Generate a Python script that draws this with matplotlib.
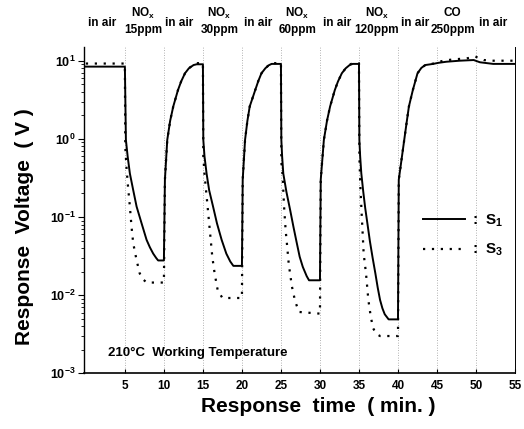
import matplotlib
matplotlib.use("Agg")
import matplotlib.pyplot as plt
from matplotlib.ticker import FixedLocator, LogLocator, NullFormatter

plt.rcParams['font.family'] = ['Liberation Sans', 'DejaVu Sans']
plt.rcParams['font.weight'] = 'bold'
plt.rcParams['mathtext.fontset'] = 'custom'
plt.rcParams['mathtext.rm'] = 'Liberation Sans:bold'
plt.rcParams['mathtext.bf'] = 'Liberation Sans:bold'
plt.rcParams['mathtext.it'] = 'Liberation Sans:bold'
plt.rcParams['mathtext.default'] = 'bf'

# S1 (solid) response: time (min), voltage (V)
s1_t = [0, 5.0, 5.13, 5.35, 5.64, 6.07, 6.5, 7.14, 7.78, 8.2, 8.63, 9.0, 9.26, 10.0,
        10.13, 10.43, 10.8, 11.2, 11.8, 12.2, 12.7, 13.2, 13.8, 14.2, 15.0,
        15.05, 15.2, 15.47, 15.8, 16.3, 16.8, 17.4, 18.0, 18.5, 18.9, 20.0,
        20.1, 20.4, 20.7, 21.0, 21.7, 22.1, 22.5, 23.0, 23.4, 23.8, 25.0,
        25.05, 25.15, 25.3, 25.7, 26.2, 26.6, 27.0, 27.4, 27.8, 28.3, 28.6, 30.0,
        30.1, 30.5, 30.9, 31.3, 31.9, 32.3, 32.8, 33.3, 33.8, 34.2, 35.0,
        35.05, 35.15, 35.3, 35.55, 35.8, 36.1, 36.4, 36.75, 37.1, 37.4, 37.7, 38.0, 38.3, 38.8, 40.0,
        40.1, 40.8, 41.1, 41.4, 41.9, 42.5, 43.0, 43.5, 44.5, 45.2, 46.2, 47.9, 49.7, 50.5, 52.2, 55.0]
s1_v = [8.4, 8.4, 0.97, 0.6, 0.36, 0.22, 0.136, 0.083, 0.051, 0.041, 0.034, 0.030, 0.0278, 0.0278,
        0.30, 0.97, 1.7, 2.6, 4.2, 5.4, 6.9, 8.0, 8.8, 9.0, 9.0,
        0.97, 0.6, 0.36, 0.22, 0.136, 0.083, 0.051, 0.034, 0.027, 0.0237, 0.0237,
        0.30, 0.97, 1.7, 2.6, 4.2, 5.5, 6.9, 8.0, 8.7, 9.1, 9.1,
        0.97, 0.6, 0.36, 0.21, 0.12, 0.075, 0.048, 0.031, 0.023, 0.0175, 0.0155, 0.0155,
        0.30, 0.97, 1.7, 2.6, 4.2, 5.4, 6.9, 8.0, 8.8, 9.1, 9.1,
        0.97, 0.6, 0.36, 0.21, 0.13, 0.08, 0.049, 0.03, 0.019, 0.0125, 0.0087, 0.0068, 0.0057, 0.0049, 0.0049,
        0.30, 0.97, 1.6, 2.6, 4.2, 6.9, 8.1, 8.8, 9.1, 9.4, 9.7, 10.0, 10.2, 9.55, 9.1, 9.1]

# S3 (dotted) response
s3_t = [0, 5.0, 5.05, 5.2, 5.4, 5.64, 5.85, 6.07, 6.5, 6.9, 7.3, 7.8, 10.0,
        10.13, 10.43, 10.8, 11.2, 11.8, 12.2, 12.7, 13.2, 13.8, 14.2, 15.0,
        15.05, 15.2, 15.4, 15.6, 15.8, 16.0, 16.2, 16.5, 16.9, 17.5, 20.0,
        20.1, 20.4, 20.7, 21.0, 21.7, 22.1, 22.5, 23.0, 23.4, 23.8, 25.0,
        25.05, 25.2, 25.4, 25.6, 25.8, 26.0, 26.4, 26.8, 27.3, 30.0,
        30.1, 30.5, 30.9, 31.3, 31.9, 32.3, 32.8, 33.3, 33.8, 34.2, 35.0,
        35.05, 35.2, 35.34, 35.47, 35.6, 35.9, 36.2, 36.5, 36.8, 37.2, 37.7, 40.0,
        40.1, 40.8, 41.1, 41.4, 41.9, 42.5, 43.0, 43.5, 44.7, 45.8, 47.1, 48.8, 49.9, 51.0, 52.2, 55.0]
s3_v = [9.2, 9.2, 0.79, 0.44, 0.245, 0.136, 0.075, 0.046, 0.028, 0.019, 0.016, 0.0145, 0.0145,
        0.30, 0.97, 1.7, 2.6, 4.2, 5.4, 6.9, 8.0, 8.9, 9.3, 9.3,
        0.6, 0.36, 0.22, 0.136, 0.083, 0.051, 0.031, 0.019, 0.0115, 0.0092, 0.0092,
        0.30, 0.97, 1.7, 2.6, 4.2, 5.5, 6.9, 8.0, 8.7, 9.3, 9.3,
        0.5, 0.36, 0.136, 0.068, 0.042, 0.025, 0.013, 0.0085, 0.0061, 0.0058,
        0.30, 0.97, 1.7, 2.6, 4.2, 5.4, 6.9, 8.0, 8.9, 9.3, 9.3,
        0.59, 0.22, 0.112, 0.062, 0.034, 0.019, 0.0087, 0.0054, 0.0038, 0.0032, 0.0030, 0.0030,
        0.30, 0.97, 1.6, 2.6, 4.2, 6.9, 8.1, 8.8, 9.26, 10.0, 10.4, 10.7, 11.3, 10.2, 10.0, 10.0]

x_ticks = [5, 10, 15, 20, 25, 30, 35, 40, 45, 50, 55]
y_ticks = [1e-3, 1e-2, 1e-1, 1e0, 1e1]
y_labels = [r'$10^{-3}$', r'$10^{-2}$', r'$10^{-1}$', r'$10^{0}$', r'$10^{1}$']

# gas exposure labels along the top
gas_pos = [2.1, 7.3, 11.9, 17.1, 22.1, 27.1, 32.2, 37.3, 42.2, 47.0, 52.2]
gas_top = [None, r'NO$_\mathbf{x}$', None, r'NO$_\mathbf{x}$', None, r'NO$_\mathbf{x}$',
           None, r'NO$_\mathbf{x}$', None, 'CO', None]
gas_bottom = ['in air', '15ppm', 'in air', '30ppm', 'in air', '60ppm',
              'in air', '120ppm', 'in air', '250ppm', 'in air']

fig = plt.figure(figsize=(5.24, 4.29), dpi=100)
ax = fig.add_axes([0.1609, 0.1298, 0.822, 0.7613])

for t in x_ticks[:-1]:
    ax.axvline(t, color='0.6', lw=0.6, linestyle=(0, (1, 2)), zorder=1)

ax.plot(s1_t, s1_v, color='black', lw=1.4, label=r':  $S_1$', zorder=3)
ax.plot(s3_t, s3_v, color='black', lw=1.6, linestyle=(0, (1, 3)), label=r':  $S_3$', zorder=3)

ax.set_yscale('log')
ax.set_xlim(-0.2, 55)
ax.set_ylim(1e-3, 15.1)
ax.set_xticks(x_ticks)
ax.set_xticklabels([str(t) for t in x_ticks], fontsize=8.5, fontweight='bold')
ax.yaxis.set_major_locator(FixedLocator(y_ticks))
ax.set_yticklabels(y_labels, fontsize=9)
ax.yaxis.set_minor_locator(LogLocator(base=10, subs=range(2, 10)))
ax.yaxis.set_minor_formatter(NullFormatter())
ax.tick_params(axis='y', which='major', direction='out', length=4, width=0.8, pad=2)
ax.tick_params(axis='y', which='minor', direction='out', length=2, width=0.6)
ax.tick_params(axis='x', direction='in', length=3, width=0.8, pad=5)
ax.spines['top'].set_visible(False)
ax.spines['right'].set_linewidth(0.7)
ax.spines['left'].set_linewidth(1.0)
ax.spines['bottom'].set_linewidth(1.2)

fig.text(318 / 524, 1 - 406 / 429, 'Response  time  ( min. )', fontsize=15,
         fontweight='bold', ha='center', va='center')
fig.text(25 / 524, 1 - 227 / 429, 'Response  Voltage  ( V )', fontsize=15,
         fontweight='bold', ha='center', va='center', rotation=90)

ax.text(2.8, 1.8e-3, '210°C  Working Temperature', fontsize=9.5, fontweight='bold',
        va='center', ha='left')

trans = ax.get_xaxis_transform()
for pos, top, bottom in zip(gas_pos, gas_top, gas_bottom):
    if top is None:
        ax.text(pos, 1.0735, bottom, transform=trans, ha='center', va='center',
                fontsize=8.5, fontweight='bold')
    else:
        ax.text(pos, 1.102, top, transform=trans, ha='center', va='center',
                fontsize=8.5, fontweight='bold')
        ax.text(pos, 1.051, bottom, transform=trans, ha='center', va='center',
                fontsize=8.5, fontweight='bold')

ax.legend(loc='center left', bbox_to_anchor=(0.786, 0.422), frameon=False,
          handlelength=2.75, handletextpad=0.45, borderpad=0, borderaxespad=0,
          labelspacing=0.85, prop={'size': 11, 'weight': 'bold'})

fig.savefig('out.png', dpi=100)
